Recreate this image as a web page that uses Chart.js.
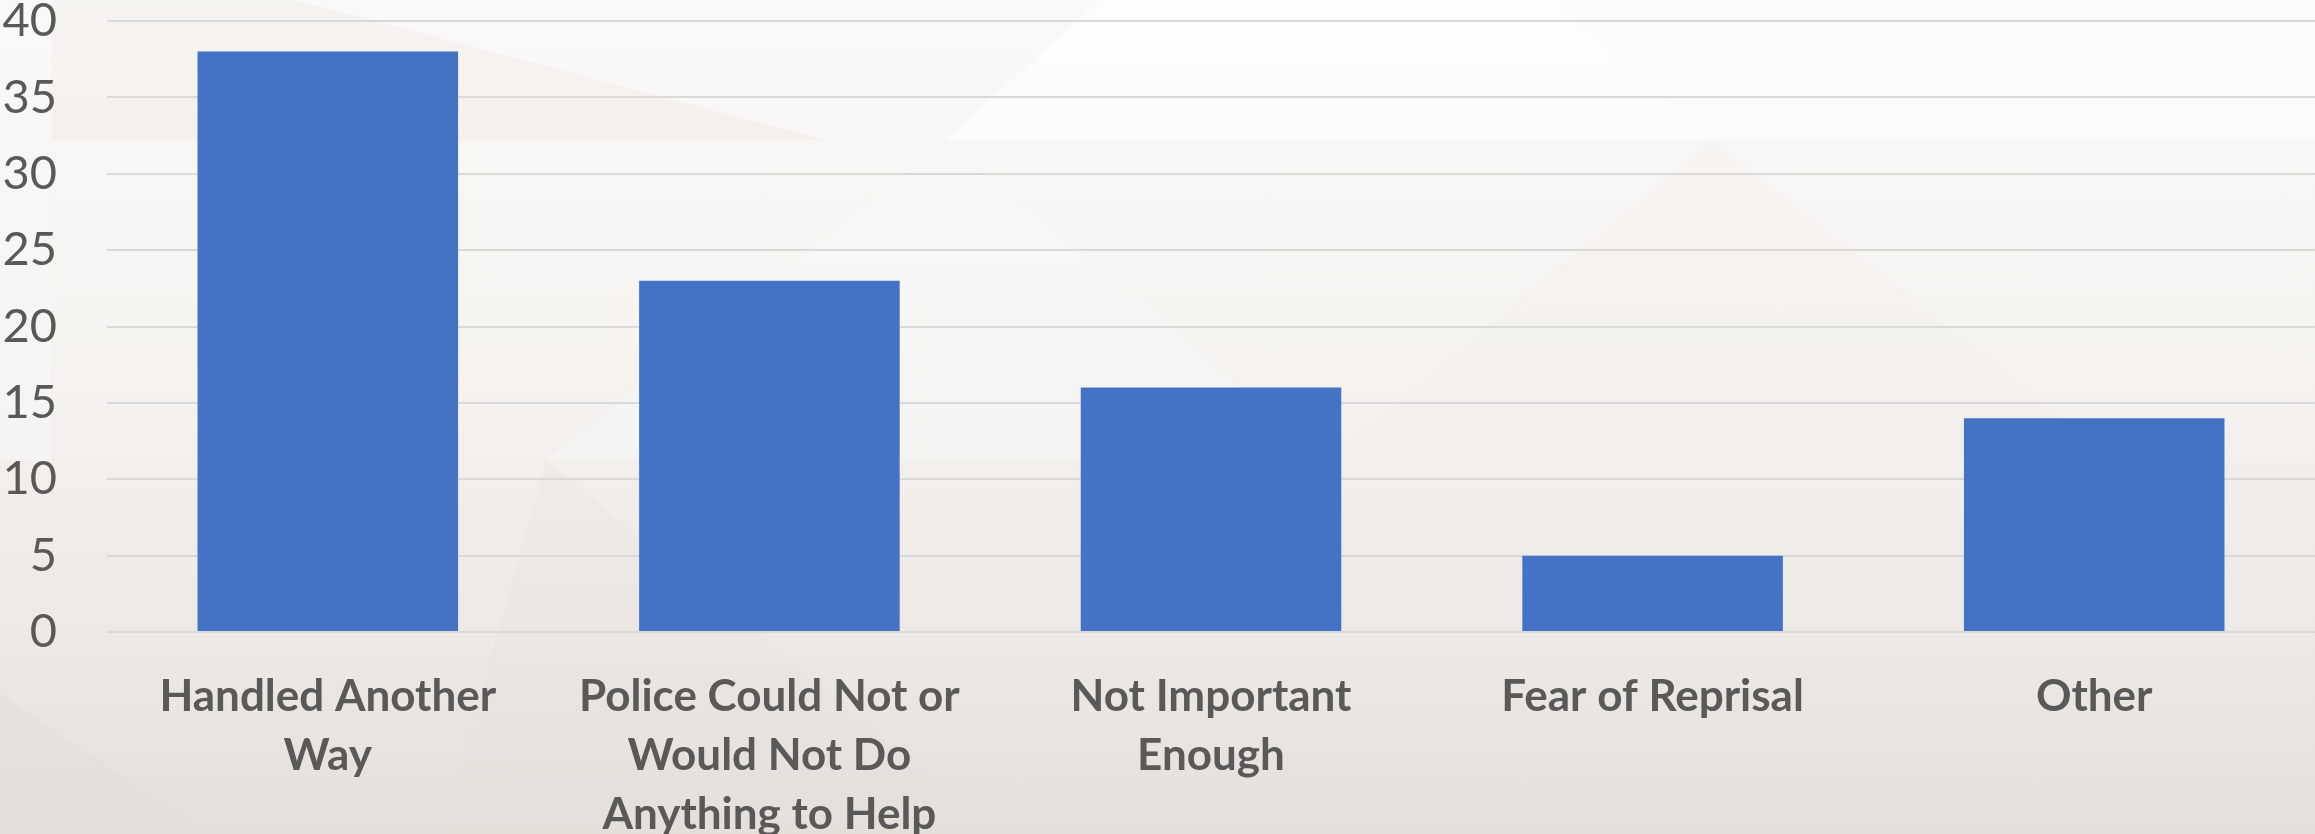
<!DOCTYPE html>
<html>
<head>
<meta charset="utf-8">
<script src="https://cdn.jsdelivr.net/npm/chart.js@4.4.1/dist/chart.umd.min.js"></script>
<style>
  html, body { margin: 0; padding: 0; }
  body {
    width: 2315px; height: 834px; overflow: hidden;
    background: linear-gradient(180deg, #faf9f7 0%, #f6f4f1 40%, #ede9e5 75%, #e4dfda 100%);
  }
  #wrap { position: relative; width: 2315px; height: 834px; }
  #bg { position: absolute; left: 0; top: 0; width: 2315px; height: 834px; }
  #barChart { position: relative; }
</style>
</head>
<body>
<div id="wrap">
  <!-- faint facet pattern behind the chart -->
  <svg id="bg" viewBox="0 0 1568 565" preserveAspectRatio="none">
    <polygon points="35,0 200,0 560,95 35,95" fill="#ebe6df" opacity="0.3"/>
    <polygon points="640,95 745,0 1050,0 1160,95" fill="#ffffff" opacity="0.6"/>
    <polygon points="900,95 1568,95 1568,0 1050,0 1160,95" fill="#ffffff" opacity="0.45"/>
    <polygon points="370,312 640,95 900,312" fill="#f6f7f9" opacity="0.5"/>
    <polygon points="1160,95 1568,420 1568,312 900,312" fill="#efebe6" opacity="0.25"/>
    <polygon points="0,95 35,95 35,312 0,312" fill="#f7f8fa" opacity="0.5"/>
    <polygon points="370,312 635,530 635,565 300,565" fill="#e6e1db" opacity="0.25"/>
    <polygon points="0,470 140,565 0,565" fill="#e2ddd7" opacity="0.4"/>
  </svg>
  <canvas id="barChart"></canvas>
</div>
<script>
  // reasons for not reporting
  const categories = [
    ["Handled Another", "Way"],
    ["Police Could Not or", "Would Not Do", "Anything to Help"],
    ["Not Important", "Enough"],
    "Fear of Reprisal",
    "Other"
  ];
  const counts = [38, 23, 16, 5, 14];
  const yTicks = [0, 5, 10, 15, 20, 25, 30, 35, 40];

  const ctx = document.getElementById("barChart").getContext("2d");

  new Chart(ctx, {
    type: "bar",
    data: {
      labels: categories,
      datasets: [
        {
          data: counts,
          backgroundColor: "#4472c4",
          borderWidth: 0,
          barPercentage: 0.59,
          categoryPercentage: 1.0
        }
      ]
    },
    options: {
      responsive: true,
      maintainAspectRatio: false,
      animation: false,
      layout: { padding: { left: 0, right: 0, top: 21, bottom: 0 } },
      plugins: {
        legend: { display: false },
        tooltip: { enabled: false }
      },
      scales: {
        x: {
          grid: { display: false },
          border: { display: false },
          ticks: {
            color: "#595959",
            padding: 27,
            maxRotation: 0,
            autoSkip: false,
            font: { family: "Lato", size: 44, weight: "bold", lineHeight: 1.34 }
          },
          afterFit: (axis) => {
            axis.height = 202;
            axis.paddingLeft = 0;
            axis.paddingRight = 0;
          }
        },
        y: {
          min: yTicks[0],
          max: yTicks[yTicks.length - 1],
          afterBuildTicks: (axis) => { axis.ticks = yTicks.map((v) => ({ value: v })); },
          grid: { color: "#d9d9d9", lineWidth: 2, drawTicks: false },
          border: { display: false },
          ticks: {
            color: "#595959",
            padding: 50,
            font: { family: "Lato", size: 47 }
          },
          afterFit: (axis) => {
            axis.width = 107;
            axis.paddingTop = 0;
            axis.paddingBottom = 0;
          }
        }
      }
    }
  });
</script>
</body>
</html>
